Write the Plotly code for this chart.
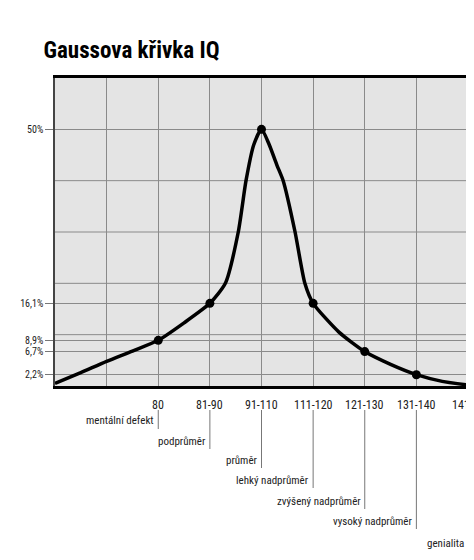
import plotly.graph_objects as go

curve_x = [0, 0.5, 1, 1.5, 2, 2.5, 3, 3.3, 3.55, 3.7, 3.85, 4, 4.15, 4.3, 4.42, 4.65, 4.84, 5, 5.5, 6, 6.5, 7, 7.5, 8]
curve_y = [0.5, 2.6, 4.8, 6.8, 8.9, 12.3, 16.1, 20, 30, 40, 47, 50, 47, 43, 40, 30, 20, 16.1, 10.5, 6.7, 4.2, 2.2, 0.9, 0.2]
point_x = [2, 3, 4, 5, 6, 7]
point_y = [8.9, 16.1, 50, 16.1, 6.7, 2.2]
cat_pos = [2, 3, 4, 5, 6, 7, 8]
cat_labels = ["80", "81-90", "91-110", "111-120", "121-130", "131-140", "141"]
desc_labels = ["mentální defekt", "podprůměr", "průměr", "lehký nadprůměr",
               "zvýšený nadprůměr", "vysoký nadprůměr", "genialita"]
desc_pix_y = [413, 433, 452, 472, 493, 513, 535]
y_ticks = [2.2, 6.7, 8.9, 16.1, 50]
y_ticktext = ["2,2%", "6,7%", "8,9%", "16,1%", "50%"]
grid_y = [10, 20, 30, 40]

FONT = "Liberation Sans Narrow, Roboto Condensed, Liberation Sans, sans-serif"

fig = go.Figure()
fig.add_trace(go.Scatter(x=curve_x, y=curve_y, mode="lines",
                         line=dict(color="black", width=3.5, shape="spline", smoothing=0.6),
                         hoverinfo="skip"))
fig.add_trace(go.Scatter(x=point_x, y=point_y, mode="markers",
                         marker=dict(color="black", size=9)))

for g in grid_y:
    fig.add_shape(type="line", xref="paper", yref="y", x0=0, x1=1, y0=g, y1=g,
                  line=dict(color="#8a8a8a", width=1), layer="below")

H = 308.0
for xp, lab, py in zip(cat_pos, desc_labels, desc_pix_y):
    yp = (378 - py) / H
    fig.add_annotation(x=xp, y=yp, xref="x", yref="paper", text=lab, showarrow=False,
                       xanchor="right", yanchor="middle", xshift=-2,
                       font=dict(family=FONT, size=11, color="#222"))
    fig.add_shape(type="line", xref="x", yref="paper", x0=xp, x1=xp,
                  y0=(378 - 402) / H, y1=(378 - py - 8) / H,
                  line=dict(color="#777", width=1))

for xp, lab in zip(cat_pos, cat_labels):
    fig.add_annotation(x=xp, y=0, xref="x", yref="paper", text=lab, showarrow=False,
                       yanchor="top", yshift=-10,
                       xanchor="right" if xp == 8 else "center",
                       xshift=4 if xp == 8 else 0,
                       font=dict(family=FONT, size=12, color="#222"))

fig.update_layout(
    width=474, height=560,
    margin=dict(l=47, r=14, t=70, b=182, autoexpand=False),
    paper_bgcolor="white", plot_bgcolor="#e4e4e4",
    showlegend=False,
    title=dict(text="<b>Gaussova křivka IQ</b>", x=0.075, xanchor="left", y=0.925, yanchor="middle",
               font=dict(family=FONT, size=23, color="black")),
    xaxis=dict(range=[0, 8], tickmode="array", tickvals=[1, 2, 3, 4, 5, 6, 7],
               showticklabels=False, showgrid=True, gridcolor="#8a8a8a",
               showline=True, linecolor="black", linewidth=2.5, mirror=True,
               ticks="", zeroline=False, automargin=False),
    yaxis=dict(range=[0, 60], tickmode="array", tickvals=y_ticks, ticktext=y_ticktext,
               showgrid=True, gridcolor="#8a8a8a", showline=True, linecolor="#444",
               linewidth=1.5, mirror=True, ticks="outside", ticklen=8, tickcolor="#777",
               tickfont=dict(family=FONT, size=10, color="#222"), zeroline=False,
               automargin=False),
)
fig.write_html("out.html")
